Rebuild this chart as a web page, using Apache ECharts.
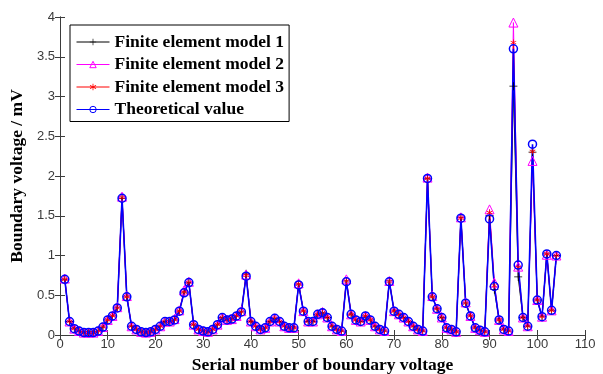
<!DOCTYPE html>
<html>
<head>
<meta charset="utf-8">
<script src="https://cdn.jsdelivr.net/npm/echarts@6/dist/echarts.min.js"></script>
<style>
  html, body { margin: 0; padding: 0; background: #fff; }
  #chart { width: 603px; height: 374px; }
</style>
</head>
<body>
<div id="chart"></div>
<script>
// Serial numbers of the boundary voltages (1..104)
const serial = Array.from({ length: 104 }, (_, i) => i + 1);

// Theoretical boundary voltage, mV
const theoretical = [
  0.70, 0.17, 0.08, 0.05, 0.03, 0.03, 0.03, 0.05, 0.10, 0.19,
  0.24, 0.34, 1.72, 0.48, 0.11, 0.07, 0.04, 0.03, 0.04, 0.07,
  0.11, 0.17, 0.17, 0.19, 0.30, 0.53, 0.66, 0.13, 0.07, 0.05,
  0.04, 0.07, 0.13, 0.22, 0.19, 0.20, 0.24, 0.29, 0.74, 0.17,
  0.11, 0.07, 0.09, 0.17, 0.21, 0.17, 0.11, 0.09, 0.09, 0.63,
  0.30, 0.17, 0.17, 0.26, 0.28, 0.22, 0.11, 0.07, 0.05, 0.67,
  0.26, 0.19, 0.17, 0.24, 0.19, 0.11, 0.07, 0.05, 0.67, 0.30,
  0.26, 0.22, 0.17, 0.11, 0.07, 0.05, 1.97, 0.48, 0.33, 0.22,
  0.09, 0.07, 0.04, 1.47, 0.40, 0.24, 0.09, 0.06, 0.04, 1.46,
  0.61, 0.19, 0.07, 0.05, 3.60, 0.88, 0.22, 0.11, 2.40, 0.44,
  0.23, 1.02, 0.31, 1.00
];

// Finite element model 1
const model1 = [
  0.70, 0.17, 0.08, 0.05, 0.03, 0.03, 0.03, 0.05, 0.10, 0.19,
  0.24, 0.34, 1.72, 0.48, 0.11, 0.07, 0.04, 0.03, 0.04, 0.07,
  0.11, 0.17, 0.17, 0.19, 0.30, 0.54, 0.66, 0.13, 0.07, 0.05,
  0.04, 0.07, 0.13, 0.22, 0.19, 0.20, 0.24, 0.29, 0.77, 0.17,
  0.11, 0.07, 0.09, 0.17, 0.21, 0.17, 0.11, 0.09, 0.09, 0.64,
  0.30, 0.17, 0.17, 0.26, 0.28, 0.22, 0.11, 0.07, 0.05, 0.68,
  0.26, 0.19, 0.17, 0.24, 0.19, 0.11, 0.07, 0.05, 0.68, 0.30,
  0.26, 0.22, 0.17, 0.11, 0.07, 0.05, 1.97, 0.48, 0.33, 0.22,
  0.09, 0.07, 0.04, 1.48, 0.40, 0.24, 0.09, 0.06, 0.04, 1.50,
  0.57, 0.19, 0.07, 0.05, 3.13, 0.73, 0.22, 0.11, 2.30, 0.44,
  0.23, 1.02, 0.31, 1.00
];

// Finite element model 2
const model2 = [
  0.71, 0.17, 0.08, 0.05, 0.03, 0.03, 0.03, 0.05, 0.10, 0.19,
  0.24, 0.35, 1.74, 0.49, 0.11, 0.07, 0.04, 0.03, 0.04, 0.07,
  0.11, 0.17, 0.17, 0.20, 0.31, 0.56, 0.67, 0.13, 0.07, 0.05,
  0.04, 0.07, 0.13, 0.22, 0.19, 0.20, 0.24, 0.30, 0.76, 0.17,
  0.11, 0.07, 0.09, 0.17, 0.21, 0.17, 0.11, 0.09, 0.09, 0.65,
  0.30, 0.17, 0.17, 0.26, 0.29, 0.22, 0.11, 0.07, 0.05, 0.70,
  0.26, 0.19, 0.17, 0.24, 0.19, 0.11, 0.07, 0.05, 0.68, 0.30,
  0.26, 0.22, 0.17, 0.11, 0.07, 0.05, 1.98, 0.49, 0.33, 0.22,
  0.09, 0.07, 0.04, 1.48, 0.41, 0.24, 0.09, 0.06, 0.04, 1.58,
  0.66, 0.19, 0.07, 0.05, 3.93, 0.86, 0.22, 0.11, 2.19, 0.44,
  0.23, 1.01, 0.31, 1.00
];

// Finite element model 3
const model3 = [
  0.70, 0.17, 0.08, 0.05, 0.03, 0.03, 0.03, 0.05, 0.10, 0.19,
  0.24, 0.34, 1.73, 0.48, 0.11, 0.07, 0.04, 0.03, 0.04, 0.07,
  0.11, 0.17, 0.17, 0.19, 0.30, 0.54, 0.66, 0.13, 0.07, 0.05,
  0.04, 0.07, 0.13, 0.22, 0.19, 0.20, 0.24, 0.29, 0.75, 0.17,
  0.11, 0.07, 0.09, 0.17, 0.21, 0.17, 0.11, 0.09, 0.09, 0.64,
  0.30, 0.17, 0.17, 0.26, 0.28, 0.22, 0.11, 0.07, 0.05, 0.68,
  0.26, 0.19, 0.17, 0.24, 0.19, 0.11, 0.07, 0.05, 0.67, 0.30,
  0.26, 0.22, 0.17, 0.11, 0.07, 0.05, 1.97, 0.48, 0.33, 0.22,
  0.09, 0.07, 0.04, 1.47, 0.40, 0.24, 0.09, 0.06, 0.04, 1.54,
  0.62, 0.19, 0.07, 0.05, 3.68, 0.85, 0.22, 0.11, 2.31, 0.44,
  0.23, 1.02, 0.31, 1.00
];

const seriesNames = [
  'Finite element model 1',
  'Finite element model 2',
  'Finite element model 3',
  'Theoretical value'
];

const pairs = vals => serial.map((s, i) => [s, vals[i]]);

// marker shapes
const plusPath = 'path://M4.5,0h1v4.5h4.5v1h-4.5v4.5h-1v-4.5h-4.5v-1h4.5z';
const starPath = 'path://M4.4,0L5.6,0L5.6,10L4.4,10Z' +
  'M9.03,8.02L9.63,6.98L0.97,1.98L0.37,3.02Z' +
  'M0.37,6.98L0.97,8.02L9.63,3.02L9.03,1.98Z';

const sansFont = 'Liberation Sans, Arial, sans-serif';
const serifFont = 'Liberation Serif, Times New Roman, serif';
const frameColor = '#3c3c3c';
const clear = 'rgba(0,0,0,0)';

const chart = echarts.init(document.getElementById('chart'), null, { renderer: 'canvas' });

const tickStyle = { show: true, inside: true, length: 5, lineStyle: { color: frameColor, width: 1 } };

chart.setOption({
  animation: false,
  backgroundColor: '#ffffff',
  grid: { left: 60, right: 18, top: 17, bottom: 39, outerBoundsMode: 'none', containLabel: false },
  legend: {
    orient: 'vertical',
    left: 70,
    top: 25,
    padding: [8, 5, 3, 6],
    itemWidth: 33,
    itemHeight: 8,
    itemGap: 4.5,
    borderColor: '#000',
    borderWidth: 1,
    backgroundColor: '#fff',
    lineStyle: { width: 1 },
    textStyle: { fontFamily: serifFont, fontWeight: 'bold', fontSize: 17.5, color: '#000', lineHeight: 17 },
    data: [
      { name: seriesNames[0] },
      { name: seriesNames[1], itemStyle: { color: clear, borderColor: '#ff00ff', borderWidth: 1 } },
      { name: seriesNames[2] },
      { name: seriesNames[3], itemStyle: { color: clear, borderColor: '#0000ff', borderWidth: 1 } }
    ]
  },
  xAxis: [
    {
      type: 'value', min: 0, max: 110, interval: 10,
      position: 'bottom',
      name: 'Serial number of boundary voltage',
      nameLocation: 'middle', nameGap: 21,
      nameTextStyle: { fontFamily: serifFont, fontWeight: 'bold', fontSize: 17.5, color: '#000' },
      axisLine: { show: true, lineStyle: { color: frameColor, width: 1 } },
      axisTick: tickStyle,
      axisLabel: { fontFamily: sansFont, fontSize: 13, color: '#3a3a3a', margin: 3 },
      splitLine: { show: false }
    },
    {
      type: 'value', min: 0, max: 110, interval: 10,
      position: 'top',
      axisLine: { show: true, lineStyle: { color: frameColor, width: 1 } },
      axisTick: tickStyle,
      axisLabel: { show: false },
      splitLine: { show: false }
    }
  ],
  yAxis: [
    {
      type: 'value', min: 0, max: 4, interval: 0.5,
      position: 'left',
      name: 'Boundary voltage / mV',
      nameLocation: 'middle', nameGap: 32,
      nameTextStyle: { fontFamily: serifFont, fontWeight: 'bold', fontSize: 17.5, color: '#000' },
      axisLine: { show: true, lineStyle: { color: frameColor, width: 1 } },
      axisTick: tickStyle,
      axisLabel: { fontFamily: sansFont, fontSize: 13, color: '#3a3a3a', margin: 5 },
      splitLine: { show: false }
    },
    {
      type: 'value', min: 0, max: 4, interval: 0.5,
      position: 'right',
      axisLine: { show: true, lineStyle: { color: frameColor, width: 1 } },
      axisTick: tickStyle,
      axisLabel: { show: false },
      splitLine: { show: false }
    }
  ],
  series: [
    {
      name: seriesNames[0], type: 'line', data: pairs(model1),
      symbol: plusPath, symbolSize: 8,
      lineStyle: { color: '#000', width: 1 },
      itemStyle: { color: '#000' }
    },
    {
      name: seriesNames[1], type: 'line', data: pairs(model2),
      symbol: 'triangle', symbolSize: 9,
      lineStyle: { color: '#ff00ff', width: 1 },
      itemStyle: { color: clear, borderColor: '#ff00ff', borderWidth: 1 }
    },
    {
      name: seriesNames[2], type: 'line', data: pairs(model3),
      symbol: starPath, symbolSize: 6,
      lineStyle: { color: '#ff0000', width: 1 },
      itemStyle: { color: '#ff0000' }
    },
    {
      name: seriesNames[3], type: 'line', data: pairs(theoretical),
      symbol: 'circle', symbolSize: 8,
      lineStyle: { color: '#0000ff', width: 1.6 },
      itemStyle: { color: clear, borderColor: '#0000ff', borderWidth: 1.5 }
    }
  ]
});
</script>
</body>
</html>
